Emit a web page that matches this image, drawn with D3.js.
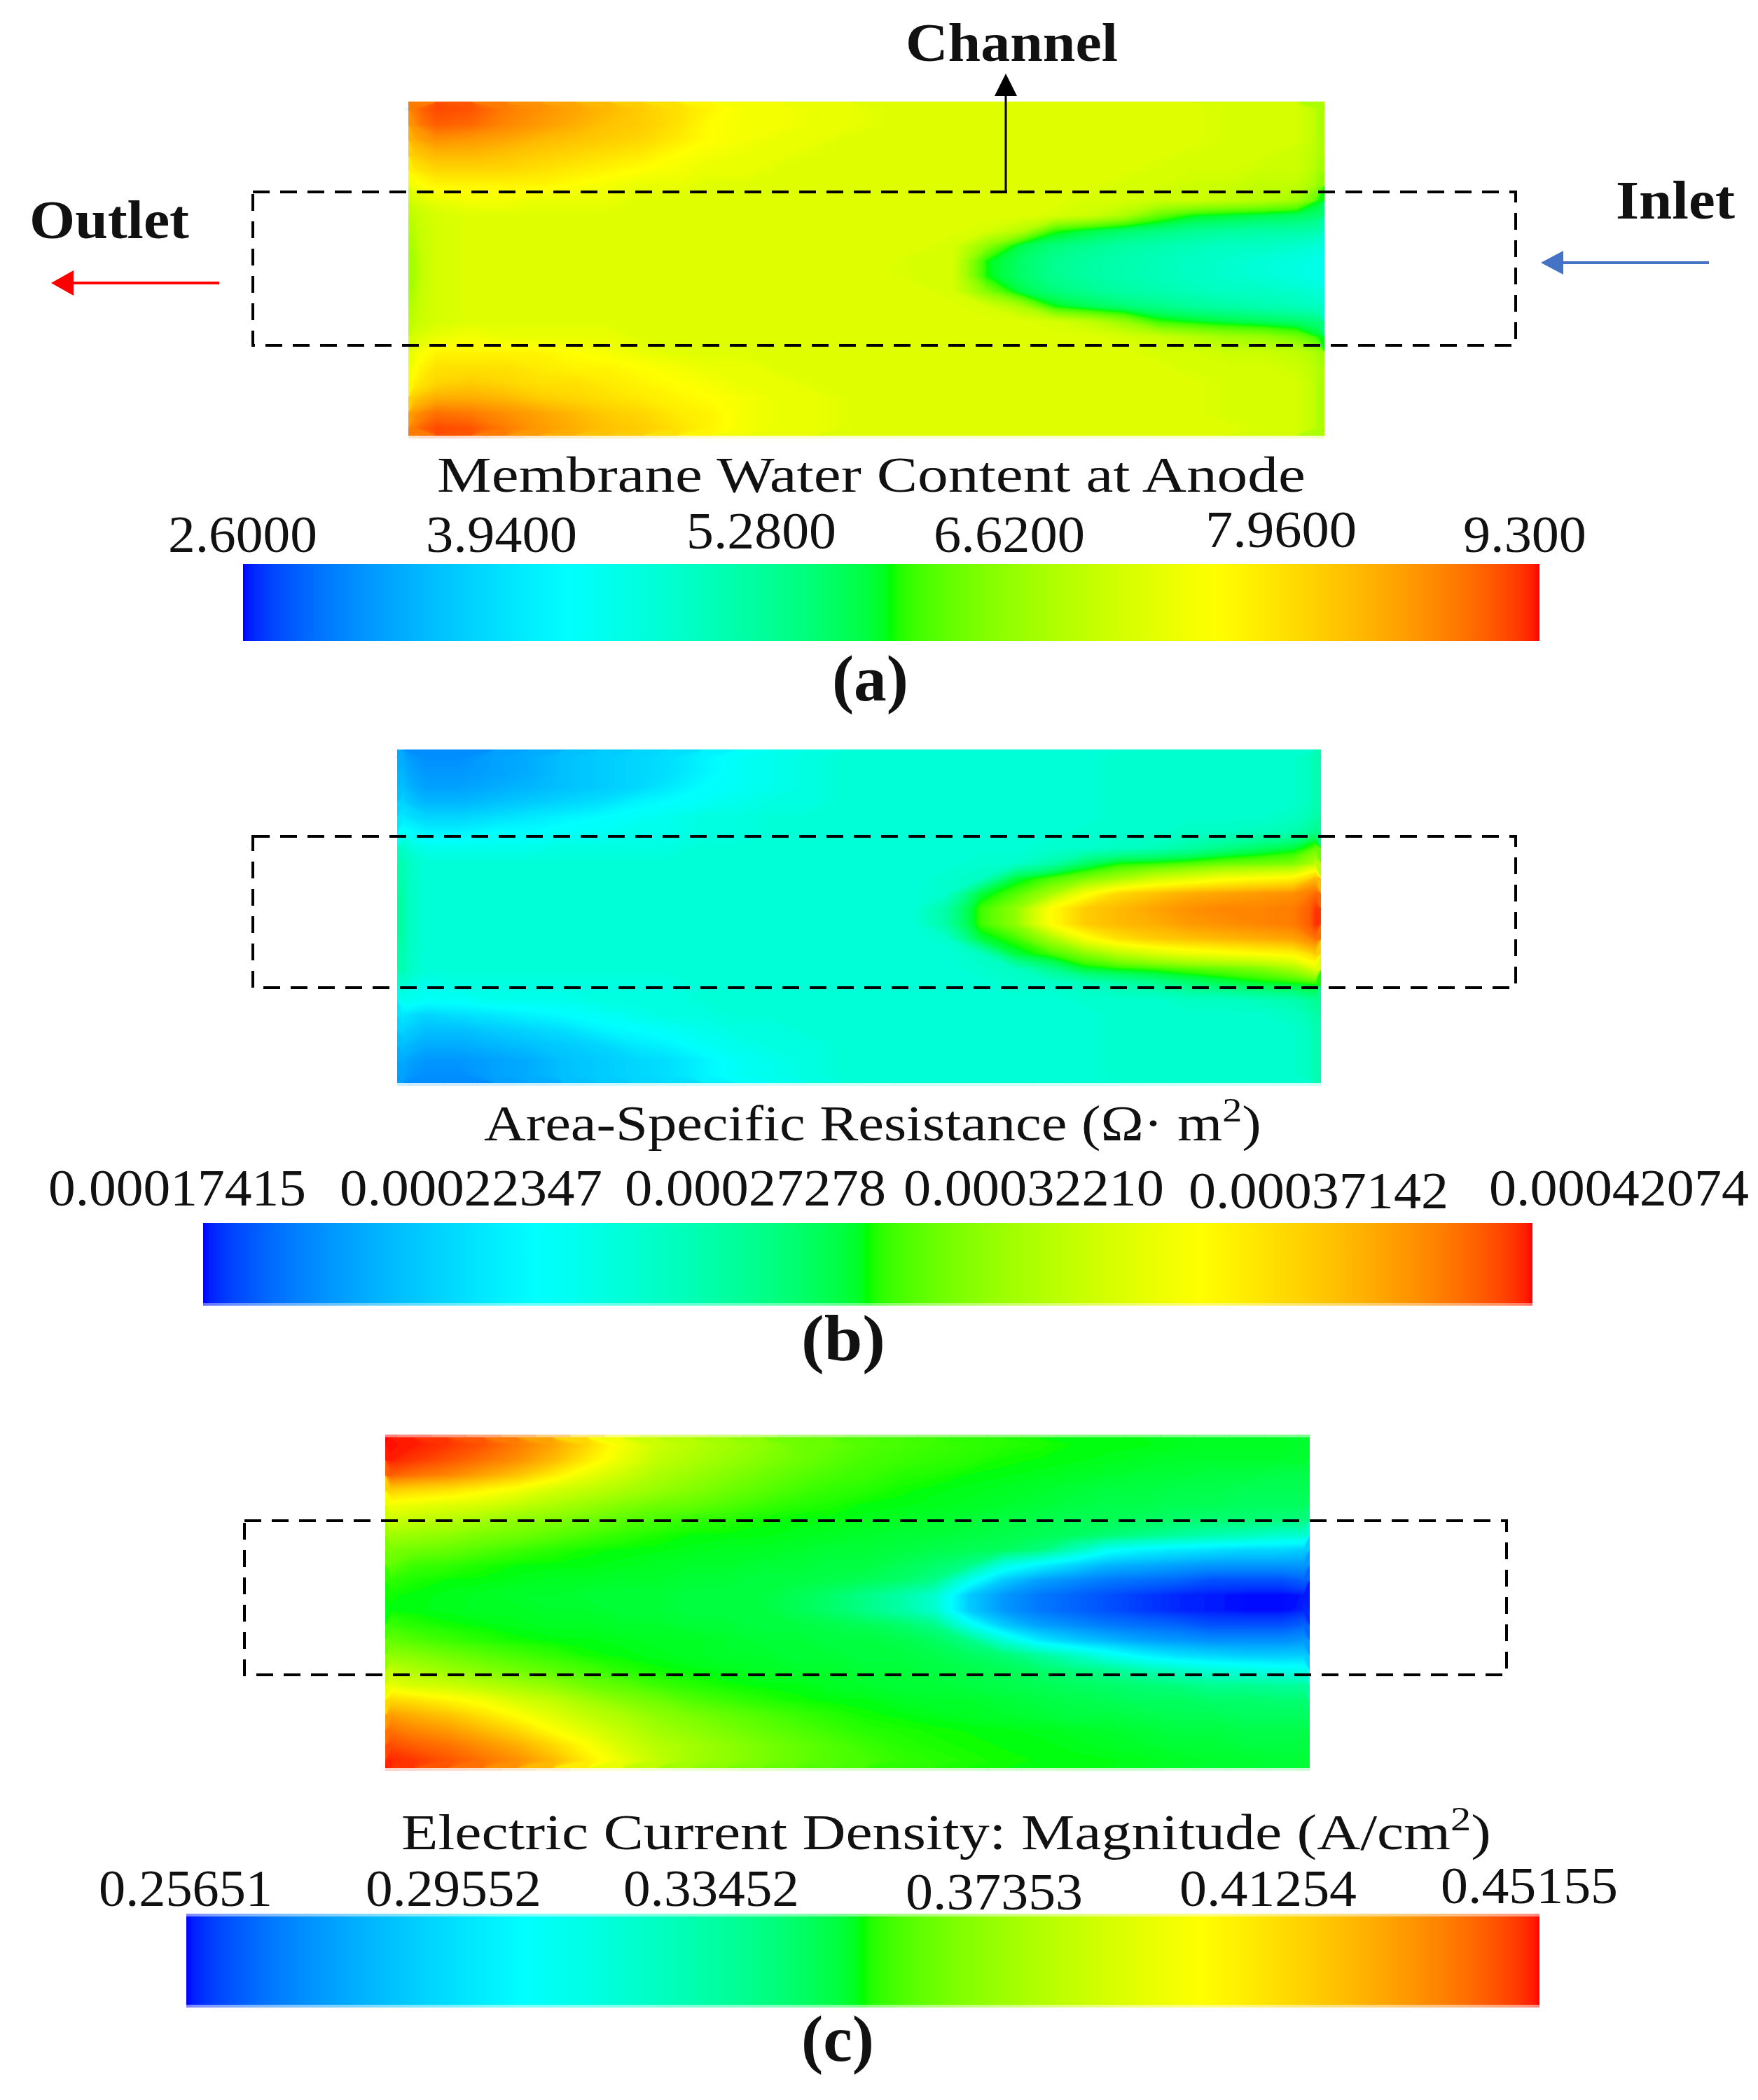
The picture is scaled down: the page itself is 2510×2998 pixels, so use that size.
<!DOCTYPE html>
<html>
<head>
<meta charset="utf-8">
<style>html,body{margin:0;padding:0;background:#fff}svg{display:block}text{font-family:"Liberation Serif",serif;fill:#111}</style>
<script src="https://cdn.jsdelivr.net/npm/d3@7"></script>
</head>
<body>
<svg id="chart" width="2510" height="2998"></svg>
<script>
// ---------- DATA ----------
const colourStops = ["#0000ff", "#00ffff", "#00ff00", "#ffff00", "#ff0000"];

const ticksA = ["2.6000", "3.9400", "5.2800", "6.6200", "7.9600", "9.300"];
const ticksB = ["0.00017415", "0.00022347", "0.00027278", "0.00032210", "0.00037142", "0.00042074"];
const ticksC = ["0.25651", "0.29552", "0.33452", "0.37353", "0.41254", "0.45155"];

// Field colours, on a 0-100 hue-ramp reading (rows top to bottom, columns left to right).
const readingsA = [
[88,93,92,88,86,84,82,80,78,76,74,74,73,73,72,72,72,72,72,72,72,72,72,72,71,71,71,67],
[86,91,90,87,85,83,81,80,78,75,74,74,73,73,72,72,72,72,72,72,72,72,72,72,71,71,71,67],
[83,86,85,84,82,81,80,79,77,75,74,73,73,72,72,72,72,72,72,72,72,72,72,72,71,71,71,67],
[80,82,82,81,80,79,78,77,75,74,73,73,72,72,72,72,72,72,72,72,72,72,72,71,71,71,70,67],
[77,79,79,79,78,77,76,75,74,73,73,72,72,72,72,72,72,72,72,72,72,72,71,71,71,70,70,66],
[74,76,76,76,76,75,74,73,73,72,72,72,72,72,72,72,72,72,72,72,72,71,71,70,70,69,69,64],
[71,73,74,74,73,73,73,72,72,72,72,72,72,72,72,72,72,72,72,72,71,71,70,70,69,68,66,52],
[69,71,72,72,72,72,72,72,72,72,72,72,72,72,72,72,72,72,72,71,70,67,60,50,45,43,41,39],
[68,71,72,72,72,72,72,72,72,72,72,72,72,72,72,72,72,71,68,55,44,40,38,36,35,34,34,33],
[67,71,72,72,72,72,72,72,72,72,72,72,72,72,72,72,71,64,43,38,36,34,33,32,31,31,30,29],
[66,71,72,72,72,72,72,72,72,72,72,72,72,72,72,71,71,52,40,36,34,33,32,31,30,29,28,27],
[66,71,72,72,72,72,72,72,72,72,72,72,72,72,72,71,71,52,40,36,34,33,32,31,30,29,28,27],
[67,71,72,72,72,72,72,72,72,72,72,72,72,72,72,72,71,63,43,38,36,34,33,32,31,31,30,29],
[68,71,72,72,72,72,72,72,72,72,72,72,72,72,72,72,72,71,67,52,42,39,37,35,34,33,32,31],
[69,71,72,72,72,72,72,72,72,72,72,72,72,72,72,72,72,72,72,71,69,65,56,48,44,42,40,38],
[71,73,74,73,73,73,73,72,72,72,72,72,72,72,72,72,72,72,72,72,72,71,70,68,66,65,62,49],
[73,76,76,76,76,75,74,73,72,72,72,72,72,72,72,72,72,72,72,72,72,72,71,71,70,70,69,66],
[74,78,78,78,77,76,76,75,74,73,73,72,72,72,72,72,72,72,72,72,72,72,72,71,71,71,70,67],
[76,79,80,79,78,78,77,76,75,74,73,73,72,72,72,72,72,72,72,72,72,72,72,72,71,71,71,67],
[80,83,83,82,80,79,78,77,76,75,74,73,73,72,72,72,72,72,72,72,72,72,72,72,71,71,71,67],
[85,89,88,86,84,82,80,79,77,76,74,73,73,72,72,72,72,72,72,72,72,72,72,72,71,71,71,67],
[88,93,92,88,85,83,81,80,78,76,74,73,73,72,72,72,72,72,72,72,72,72,72,72,72,71,71,67]
];

const readingsB = [
[17,14,14,16,17,19,20,21,22,24,26,27,28,29,29,29,29,29,29,29,29,30,30,30,30,30,30,33],
[18,15,15,16,17,19,20,21,22,24,26,27,28,29,29,29,29,29,29,29,29,30,30,30,30,30,30,33],
[19,16,16,17,18,19,20,21,23,25,26,27,28,29,29,29,29,29,29,29,29,30,30,30,30,30,30,33],
[21,18,18,19,20,21,22,24,25,26,27,28,28,29,29,29,29,29,29,29,29,30,30,30,30,30,30,33],
[23,21,21,22,23,24,25,26,27,28,28,29,29,29,29,29,29,29,29,29,29,30,30,30,30,30,31,34],
[26,24,24,25,25,26,26,27,27,28,28,29,29,29,29,29,29,29,29,29,30,30,30,31,31,32,33,37],
[31,27,27,27,27,28,28,28,28,29,29,29,29,29,29,29,29,29,29,30,30,31,32,34,37,40,44,60],
[33,29,29,29,29,29,29,29,29,29,29,29,29,29,29,29,29,30,30,33,40,49,54,57,60,61,62,68],
[33,29,29,29,29,29,29,29,29,29,29,29,29,29,29,29,30,31,44,57,62,66,70,72,74,75,76,82],
[34,29,29,29,29,29,29,29,29,29,29,29,29,29,29,29,30,44,58,66,74,79,81,83,84,85,86,90],
[34,29,29,29,29,29,29,29,29,29,29,29,29,29,29,29,34,56,64,75,80,82,84,86,87,87,88,95],
[34,29,29,29,29,29,29,29,29,29,29,29,29,29,29,29,34,56,64,75,80,82,83,85,86,87,88,96],
[34,29,29,29,29,29,29,29,29,29,29,29,29,29,29,29,30,44,56,66,74,78,80,81,82,83,84,89],
[33,29,29,29,29,29,29,29,29,29,29,29,29,29,29,29,29,31,44,56,63,68,71,73,74,75,76,80],
[33,29,29,29,29,29,29,29,29,29,29,29,29,29,29,29,29,30,31,36,44,50,55,58,60,62,66,72],
[30,27,28,28,28,28,28,28,28,29,29,29,29,29,29,29,29,29,30,30,31,33,35,38,41,44,46,53],
[27,26,26,27,27,27,28,28,28,29,29,29,29,29,29,29,29,29,29,29,30,30,30,31,31,32,33,36],
[23,21,22,23,24,25,26,27,28,28,29,29,29,29,29,29,29,29,29,29,29,30,30,30,30,30,31,34],
[21,19,19,20,21,22,24,25,26,27,28,28,29,29,29,29,29,29,29,29,29,30,30,30,30,30,30,33],
[19,17,17,18,19,20,21,23,24,26,27,28,28,29,29,29,29,29,29,29,29,30,30,30,30,30,30,33],
[17,15,15,16,17,19,20,21,22,24,26,27,28,29,29,29,29,29,29,29,29,30,30,30,30,30,30,33],
[16,14,14,16,17,19,20,21,22,24,26,27,28,29,29,29,29,29,29,29,29,30,30,30,30,30,30,33]
];

const readingsC = [
[100,98,95,92,88,84,79,74,70,68,66,64,61,60,58,57,56,55,54,53,51,50,49,48,47,47,47,46],
[98,95,92,89,86,82,77,73,69,67,65,63,61,59,57,56,55,54,52,51,49,48,47,46,46,46,46,46],
[91,89,87,84,81,77,73,70,67,65,63,61,59,57,56,54,53,51,49,48,47,46,45,45,44,44,43,43],
[80,79,78,76,74,71,69,67,65,63,61,59,57,55,54,52,49,48,47,46,45,44,44,43,43,42,42,42],
[74,73,72,71,69,67,65,63,61,60,58,56,54,53,50,49,48,47,46,45,44,43,43,42,42,41,41,41],
[70,69,68,66,64,63,61,59,57,55,54,52,50,49,48,47,46,45,44,43,42,42,41,40,39,39,38,38],
[66,65,64,62,61,59,57,55,53,51,50,49,48,47,46,45,45,44,43,42,41,39,37,35,33,32,30,30],
[62,61,60,58,56,54,52,50,49,48,47,47,46,45,45,44,43,42,41,38,32,26,24,23,22,21,21,20],
[60,56,55,53,51,50,49,48,47,46,46,45,45,44,44,42,40,37,28,24,21,18,17,16,15,15,15,15],
[55,53,51,50,48,47,47,46,46,45,45,44,44,43,42,40,37,27,20,16,14,12,11,10,8,8,8,10],
[52,50,48,47,46,46,45,45,45,44,44,44,42,40,37,34,30,20,15,12,10,8,6,4,3,1,1,3],
[51,49,48,47,47,46,46,45,45,44,44,44,42,40,37,34,30,20,15,12,10,8,6,4,3,1,1,4],
[56,54,52,50,48,47,47,46,46,45,45,44,44,43,42,40,37,27,20,16,14,12,11,10,8,8,8,10],
[60,58,56,54,52,50,49,48,47,47,46,45,45,44,44,43,41,37,29,23,20,18,16,15,14,14,14,15],
[64,63,61,59,57,55,52,50,48,47,46,46,45,45,44,44,43,41,39,35,31,27,24,22,21,20,20,20],
[69,67,65,63,61,59,57,54,52,50,48,47,46,46,45,45,44,43,42,40,38,36,33,31,29,28,27,27],
[73,71,70,68,66,64,61,59,56,54,52,50,49,47,46,45,45,44,43,42,41,40,39,38,36,36,35,35],
[79,78,76,74,71,69,66,63,61,58,56,54,52,50,49,47,46,46,45,44,43,42,41,41,40,40,39,39],
[85,83,81,78,75,72,69,67,64,62,60,58,56,54,52,50,48,47,46,45,44,44,43,42,42,41,41,41],
[89,87,85,82,79,75,72,69,66,64,62,60,58,56,54,53,52,51,49,48,47,46,45,44,44,43,43,43],
[93,91,89,86,83,79,75,71,68,66,64,62,60,58,56,54,53,52,51,50,48,47,46,45,45,44,44,44],
[97,95,92,89,86,82,77,73,69,66,64,62,60,58,57,55,54,53,52,51,50,49,48,47,46,46,45,45]
];

// ---------- LAYOUT ----------
const panels = [
  {
    readings: readingsA, ticks: ticksA,
    field: {x0: 583, x1: 1891, y0: 145, y1: 622},
    fieldEdges: [{y0: 622, y1: 626, row: 21, opacity: 0.2}],
    box: {x0: 361, x1: 2164, y0: 274, y1: 493},
    bar: {x0: 347, x1: 2198, y0: 805, y1: 915},
    barEdges: [],
    tickPos: [[240,453,788],[608,824,788],[980,1194,783],[1333,1549,788],[1721,1937,781],[2089,2265,788]],
    title: {parts: ["Membrane Water Content at Anode"], x0: 624, x1: 1864, y: 702},
    tag: {text: "(a)", x0: 1188, x1: 1297, y: 1000}
  },
  {
    readings: readingsB, ticks: ticksB,
    field: {x0: 567, x1: 1886, y0: 1070, y1: 1546},
    fieldEdges: [{y0: 1546, y1: 1550, row: 21, opacity: 0.2}],
    box: {x0: 361, x1: 2164, y0: 1194, y1: 1410},
    bar: {x0: 290, x1: 2188, y0: 1746, y1: 1860},
    barEdges: [{y0: 1860, y1: 1864, opacity: 0.6}],
    tickPos: [[69,437,1721],[485,860,1721],[892,1265,1721],[1290,1662,1721],[1697,2068,1725],[2126,2497,1721]],
    title: {parts: ["Area-Specific Resistance (\u03a9\u00b7 m", "2", ")"], x0: 691, x1: 1801, y: 1628},
    tag: {text: "(b)", x0: 1144, x1: 1264, y: 1942}
  },
  {
    readings: readingsC, ticks: ticksC,
    field: {x0: 550, x1: 1870, y0: 2052, y1: 2524},
    fieldEdges: [{y0: 2048, y1: 2052, row: 0, opacity: 0.5}, {y0: 2524, y1: 2528, row: 21, opacity: 0.2}],
    box: {x0: 349, x1: 2151, y0: 2171, y1: 2391},
    bar: {x0: 266, x1: 2198, y0: 2736, y1: 2862},
    barEdges: [{y0: 2732, y1: 2736, opacity: 0.5}, {y0: 2862, y1: 2866, opacity: 0.5}],
    tickPos: [[141,389,2721],[522,773,2721],[890,1141,2721],[1293,1546,2726],[1684,1937,2721],[2057,2310,2717]],
    title: {parts: ["Electric Current Density: Magnitude (A/cm", "2", ")"], x0: 573, x1: 2129, y: 2640},
    tag: {text: "(c)", x0: 1144, x1: 1248, y: 2942}
  }
];

const labels = [
  {text: "Channel", x0: 1293, x1: 1596, y: 87},
  {text: "Outlet", x0: 42, x1: 270, y: 340},
  {text: "Inlet", x0: 2307, x1: 2477, y: 312}
];
const arrows = [
  {from: [1436, 274], base: [1436, 137], tip: [1436, 105], half: 16, width: 3, colour: "#000"},
  {from: [313, 404], base: [105, 404], tip: [73, 404], half: 18, width: 4, colour: "#ff0000"},
  {from: [2440, 375], base: [2232, 375], tip: [2200, 375], half: 17, width: 4, colour: "#4472c4"}
];

// ---------- COLOUR RAMP ----------
const rampGamma = 0.55;
const rampSpan = 100 / (colourStops.length - 1);
const segments = d3.pairs(colourStops).map(([a, b]) => d3.interpolateRgb(a, b));
function segmentOf(p) {
  const i = Math.min(segments.length - 1, Math.floor(p / rampSpan));
  return [i, (p - i * rampSpan) / rampSpan];
}
// p: position along the bar, 0-100
function rampColour(p) {
  const [i, s] = segmentOf(Math.max(0, Math.min(100, p)));
  return segments[i](i % 2 === 0 ? Math.pow(s, rampGamma) : 1 - Math.pow(1 - s, rampGamma));
}
// a reading is the hue share seen in the picture; this gives the bar position with that colour
function readingToPosition(r) {
  const [i, s] = segmentOf(r);
  const e = 1 / rampGamma;
  const q = i % 2 === 0 ? Math.pow(s, e) : 1 - Math.pow(1 - s, e);
  return (i + q) * rampSpan;
}

// ---------- DRAW ----------
const svg = d3.select("#chart");
svg.append("rect").attr("width", 2510).attr("height", 2998).attr("fill", "#fff");
const defs = svg.append("defs");

function fitText(sel, parts, x0, x1, y, size, weight) {
  const t = sel.append("text").attr("font-size", size).attr("font-weight", weight || 400);
  parts.forEach((p, i) => {
    const span = t.append("tspan").text(p);
    if (parts.length === 3 && i === 1) span.attr("dy", -size * 0.38).attr("font-size", size * 0.68);
    if (parts.length === 3 && i === 2) span.attr("dy", size * 0.38);
  });
  const box = t.node().getBBox();
  const k = (x1 - x0) / box.width;
  t.attr("transform", `translate(${x0 - box.x * k},${y}) scale(${k},1)`);
  return t;
}

panels.forEach((p, idx) => {
  const g = svg.append("g");
  const lo = +p.ticks[0], hi = +p.ticks[p.ticks.length - 1];
  const toValue = d3.scaleLinear().domain([0, 100]).range([lo, hi]);
  const toPosition = d3.scaleLinear().domain([lo, hi]).range([0, 100]);
  const colour = v => rampColour(toPosition(v));

  const ny = p.readings.length, nx = p.readings[0].length;
  const values = p.readings.flat().map(r => toValue(readingToPosition(r)));
  const w = p.field.x1 - p.field.x0;
  const xGrid = d3.scaleLinear().domain([0, 1, nx - 1, nx])
    .range([p.field.x0, p.field.x0 + 0.012 * w, p.field.x1 - 0.012 * w, p.field.x1]);
  const yGrid = d3.scaleLinear().domain([0, ny]).range([p.field.y0, p.field.y1]);

  // pale resampling fringes along some edges
  p.fieldEdges.forEach(e => {
    g.append("g").selectAll("rect").data(d3.range(nx)).join("rect")
      .attr("x", i => xGrid(i)).attr("width", i => xGrid(i + 1) - xGrid(i) + 0.5)
      .attr("y", e.y0).attr("height", e.y1 - e.y0)
      .attr("fill", i => colour(values[e.row * nx + i])).attr("opacity", e.opacity);
  });

  // one cell per reading underneath, then filled contours of the same readings
  g.append("g").selectAll("rect").data(values).join("rect")
    .attr("x", (d, i) => xGrid(i % nx)).attr("y", (d, i) => yGrid(Math.floor(i / nx)))
    .attr("width", (d, i) => Math.min(p.field.x1, xGrid(i % nx + 1) + 0.5) - xGrid(i % nx))
    .attr("height", (d, i) => Math.min(p.field.y1, yGrid(Math.floor(i / nx) + 1) + 0.5) - yGrid(Math.floor(i / nx)))
    .attr("fill", d => colour(d));
  const thresholds = d3.range(0, 100, 0.25).map(v => toValue(v + 0.11));
  const bands = d3.contours().size([nx, ny]).thresholds(thresholds)(values)
    .filter(b => b.coordinates.length);
  const path = d3.geoPath(d3.geoTransform({
    point(x, y) { this.stream.point(xGrid(x), yGrid(y)); }
  }));
  g.append("g").selectAll("path").data(bands).join("path")
    .attr("d", path).attr("fill", d => colour(d.value));

  // channel box
  g.append("rect").attr("x", p.box.x0).attr("y", p.box.y0)
    .attr("width", p.box.x1 - p.box.x0).attr("height", p.box.y1 - p.box.y0)
    .attr("fill", "none").attr("stroke", "#000").attr("stroke-width", 4)
    .attr("stroke-dasharray", "24 15");

  // colour bar
  const barScale = d3.scaleLinear().domain([lo, hi]).range([p.bar.x0, p.bar.x1]);
  const gradId = "bar" + idx;
  const grad = defs.append("linearGradient").attr("id", gradId)
    .attr("gradientUnits", "userSpaceOnUse")
    .attr("x1", barScale(lo)).attr("x2", barScale(hi)).attr("y1", 0).attr("y2", 0);
  d3.range(0, 100.01, 0.5).forEach(q => {
    grad.append("stop").attr("offset", q / 100).attr("stop-color", rampColour(q));
  });
  g.append("rect").attr("x", p.bar.x0).attr("y", p.bar.y0)
    .attr("width", p.bar.x1 - p.bar.x0).attr("height", p.bar.y1 - p.bar.y0)
    .attr("fill", `url(#${gradId})`);
  p.barEdges.forEach(e => {
    g.append("rect").attr("x", p.bar.x0).attr("y", e.y0)
      .attr("width", p.bar.x1 - p.bar.x0).attr("height", e.y1 - e.y0)
      .attr("fill", `url(#${gradId})`).attr("opacity", e.opacity);
  });

  // texts
  p.ticks.forEach((tk, i) => {
    const [a, b, y] = p.tickPos[i];
    fitText(g, [tk], a, b, y, 74);
  });
  fitText(g, p.title.parts, p.title.x0, p.title.x1, p.title.y, 72);
  fitText(g, [p.tag.text], p.tag.x0, p.tag.x1, p.tag.y, 94, 700);
});

labels.forEach(l => fitText(svg, [l.text], l.x0, l.x1, l.y, 78, 700));

arrows.forEach(a => {
  svg.append("line").attr("x1", a.from[0]).attr("y1", a.from[1])
    .attr("x2", a.base[0]).attr("y2", a.base[1])
    .attr("stroke", a.colour).attr("stroke-width", a.width);
  const vertical = a.from[0] === a.tip[0];
  const pts = vertical
    ? [[a.tip[0], a.tip[1]], [a.base[0] - a.half, a.base[1]], [a.base[0] + a.half, a.base[1]]]
    : [[a.tip[0], a.tip[1]], [a.base[0], a.base[1] - a.half], [a.base[0], a.base[1] + a.half]];
  svg.append("polygon").attr("points", pts.join(" ")).attr("fill", a.colour);
});
</script>
</body>
</html>
